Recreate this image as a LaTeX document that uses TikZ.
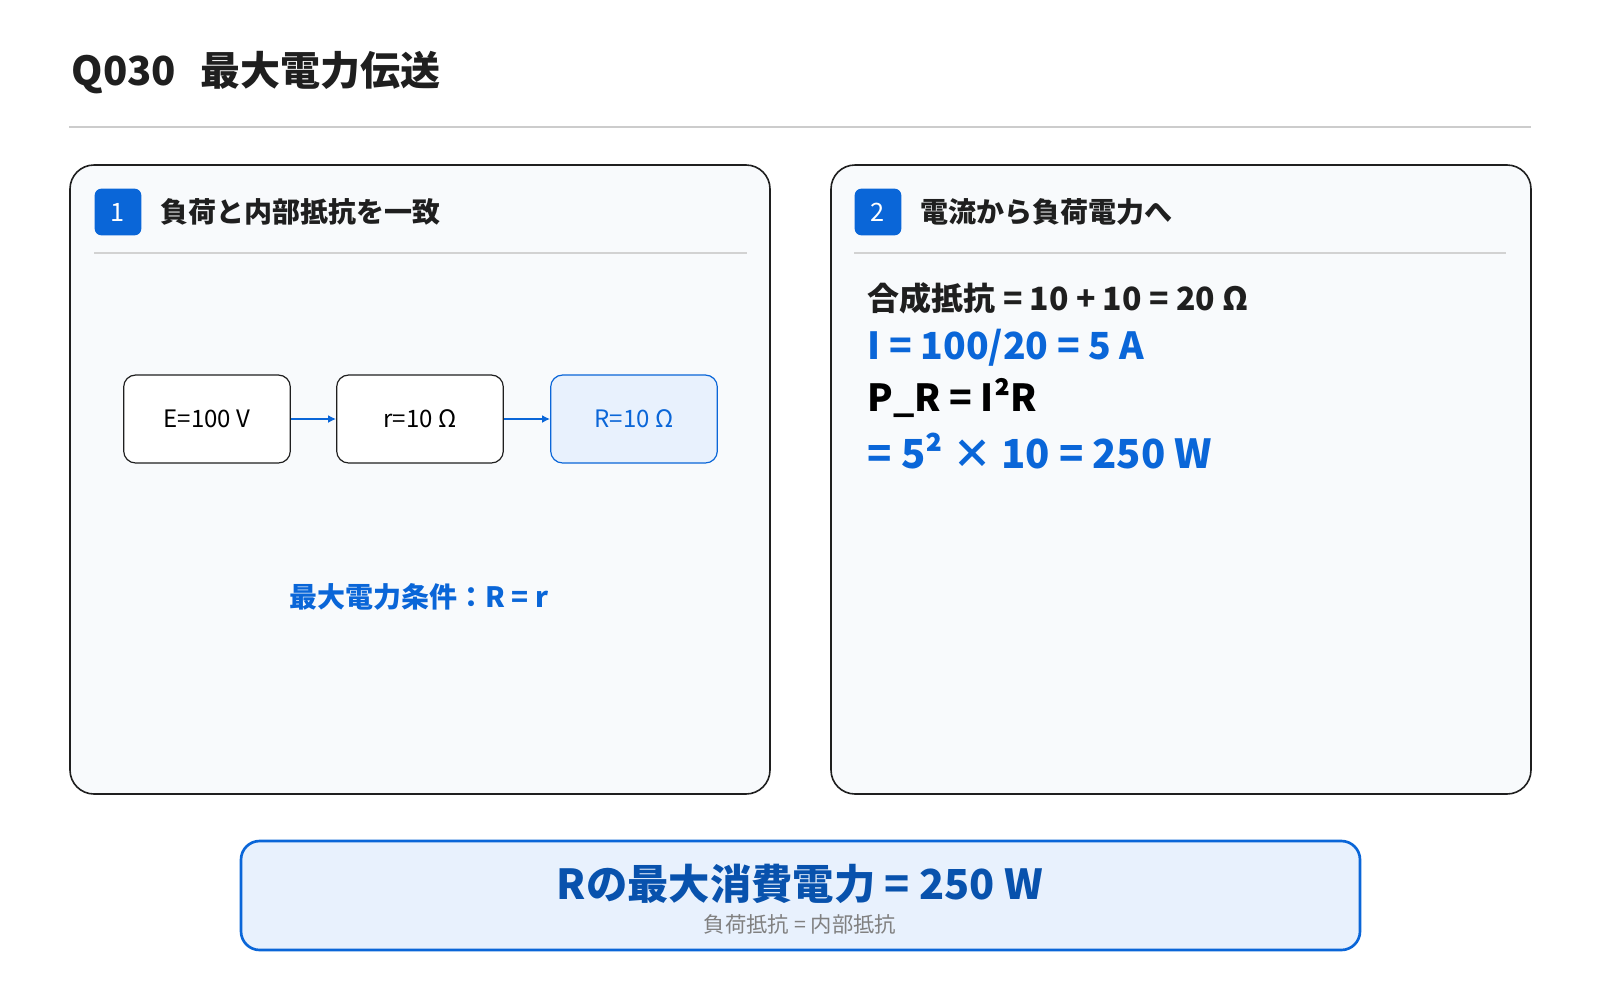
\documentclass[tikz,border=0pt]{standalone}
\usepackage{fontspec}
\usetikzlibrary{arrows.meta}
\setmainfont{Noto Sans CJK JP}
\definecolor{blu}{HTML}{0A66D8}
\definecolor{lb}{HTML}{E8F1FD}
\definecolor{pan}{HTML}{F8FAFC}
\definecolor{dk}{HTML}{1F1F1F}
\begin{document}
\begin{tikzpicture}[x=0.75pt,y=-0.75pt,
 panel/.style={draw=dk,line width=1.2pt,fill=pan,rounded corners=18},
 badge/.style={fill=blu,rounded corners=5,text=white,font=\fontsize{19}{20}\selectfont,minimum size=35pt,inner sep=0},
 hdr/.style={anchor=west,text=dk,font=\bfseries\fontsize{21}{22}\selectfont},
 bx/.style={draw=dk,line width=0.9pt,fill=white,rounded corners=9,minimum width=125pt,minimum height=66pt,font=\fontsize{18}{20}\selectfont},
 arr/.style={-{Latex[length=6pt,width=6pt]},blu,line width=2pt},
 ln/.style={anchor=west,font=\bfseries\fontsize{#1}{#1}\selectfont}]
\useasboundingbox (0,0) rectangle (1600,1000);
\fill[white] (0,0) rectangle (1600,1000);
\node[anchor=west,text=dk,font=\bfseries\fontsize{30}{32}\selectfont] (title) at (67,73) {Q030\hspace{0.6em}最大電力伝送};
\draw[gray!40,line width=1pt] (69,127) -- (1531,127);
\draw[panel] (70,165) rectangle (770,794);
\draw[panel] (831,165) rectangle (1531,794);
\node[badge] (b1) at (118,212) {1};
\node[hdr] (h1) at (156,212) {負荷と内部抵抗を一致};
\draw[gray!35,line width=0.8pt] (94,253) -- (747,253);
\node[badge] (b2) at (878,212) {2};
\node[hdr] (h2) at (916,212) {電流から負荷電力へ};
\draw[gray!35,line width=0.8pt] (854,253) -- (1506,253);
\node[bx] (E) at (207,419) {E=100 V};
\node[bx] (r) at (420,419) {r=10 Ω};
\node[bx,draw=blu,fill=lb,text=blu] (R) at (634,419) {R=10 Ω};
\draw[arr] (E) -- (r);
\draw[arr] (r) -- (R);
\node[text=blu,font=\bfseries\fontsize{21}{22}\selectfont] (cond) at (419,597) {最大電力条件：R = r};
\node[ln=24,text=dk] (l1) at (863,298) {合成抵抗 = 10 + 10 = 20 Ω};
\node[ln=28,text=blu] (l2) at (863,348) {I = 100/20 = 5 A};
\node[ln=28,text=black] (l3) at (863,398) {P\_R = I²R};
\node[ln=30,text=blu] (l4) at (863,451) {= 5² × 10 = 250 W};
\draw[draw=blu,line width=2pt,fill=lb,rounded corners=14] (241,841) rectangle (1360,950);
\node[text=blu!80!black,font=\bfseries\fontsize{31}{32}\selectfont] (m) at (800,884) {Rの最大消費電力 = 250 W};
\node[text=gray,font=\fontsize{16}{18}\selectfont] (s) at (800,924) {負荷抵抗 = 内部抵抗};
\end{tikzpicture}
\end{document}
